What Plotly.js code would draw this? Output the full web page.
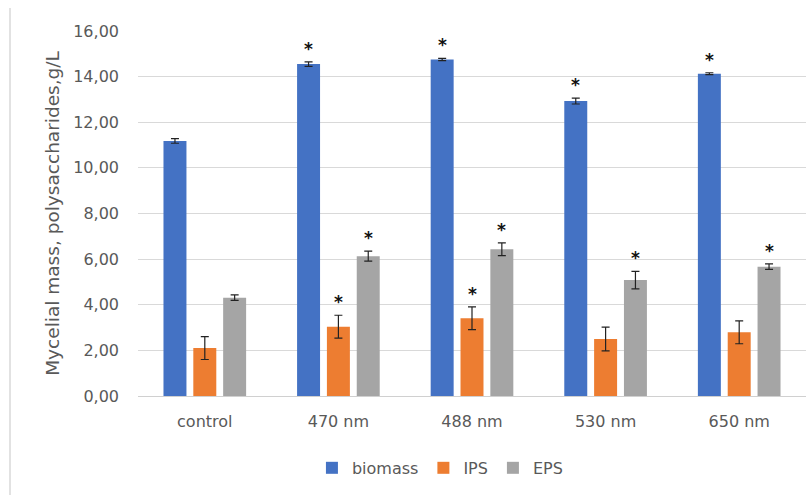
<!DOCTYPE html>
<html>
<head>
<meta charset="utf-8">
<script src="https://cdn.plot.ly/plotly-3.0.1.min.js"></script>
<style>html,body{margin:0;padding:0;background:#fff;}#chart{width:806px;height:495px;}</style>
</head>
<body>
<div id="chart"></div>
<script>
var categories = ["control", "470 nm", "488 nm", "530 nm", "650 nm"];
var biomass    = [11.18, 14.55, 14.75, 12.93, 14.13];
var biomassErr = [0.10, 0.10, 0.05, 0.13, 0.04];
var ips        = [2.10, 3.04, 3.41, 2.50, 2.79];
var ipsErr     = [0.50, 0.50, 0.50, 0.52, 0.50];
var eps        = [4.31, 6.13, 6.43, 5.08, 5.67];
var epsErr     = [0.12, 0.22, 0.28, 0.38, 0.12];
var biomassSig = [false, true, true, true, true];
var ipsSig     = [false, true, true, false, false];
var epsSig     = [false, true, true, true, true];
var yTicks     = [0, 2, 4, 6, 8, 10, 12, 14, 16];

var colors = ["#4472C4", "#ED7D31", "#A5A5A5"];
var names = ["biomass", "IPS", "EPS"];
var vals = [biomass, ips, eps];
var errs = [biomassErr, ipsErr, epsErr];
var sigs = [biomassSig, ipsSig, epsSig];

var font = "DejaVu Sans, sans-serif";
var textColor = "#595959";

var traces = vals.map(function (v, i) {
  return {
    type: "bar", name: names[i], x: categories, y: v,
    marker: {color: colors[i]},
    error_y: {type: "data", array: errs[i], visible: true, color: "#222", thickness: 1.2, width: 4},
    hoverinfo: "x+y"
  };
});

var W = 806, H = 495;
var margin = {l: 138, r: 0, t: 31, b: 99};
var bargap = 0.33;
var plotW = W - margin.l - margin.r;
var slotPx = plotW / categories.length * (1 - bargap) / 3;

var annotations = [];
sigs.forEach(function (s, i) {
  s.forEach(function (flag, j) {
    if (flag) {
      annotations.push({
        x: categories[j], y: vals[i][j] + errs[i][j], xref: "x", yref: "y",
        text: "<b>*</b>", showarrow: false, yanchor: "middle",
        xshift: (i - 1) * slotPx, yshift: 13,
        font: {family: font, size: 17, color: "#111"}
      });
    }
  });
});

var layout = {
  width: W, height: H, margin: margin,
  paper_bgcolor: "#fff", plot_bgcolor: "#fff",
  barmode: "group", bargap: bargap, bargroupgap: 0.23,
  separators: ", ",
  font: {family: font, size: 16, color: textColor},
  xaxis: {
    type: "category", showgrid: false, zeroline: false, showline: false,
    ticks: "", ticklabelstandoff: 14,
    tickfont: {family: font, size: 16, color: textColor}
  },
  yaxis: {
    range: [0, 16], tickvals: yTicks, tickformat: ".2f",
    showgrid: true, gridcolor: "#d9d9d9", gridwidth: 1,
    zeroline: true, zerolinecolor: "#d0d0d0", zerolinewidth: 1,
    showline: false, ticks: "", ticklabelstandoff: 18,
    tickfont: {family: font, size: 16, color: textColor},
    title: {text: "Mycelial mass, polysaccharides,g/L", standoff: 8,
            font: {family: font, size: 18.5, color: textColor}}
  },
  showlegend: true,
  legend: {orientation: "h", x: 0.452, xanchor: "center", y: -0.197, yanchor: "middle",
           font: {family: font, size: 16, color: textColor}, itemwidth: 30, traceorder: "normal"},
  annotations: annotations,
  shapes: [{type: "line", xref: "paper", yref: "paper",
            x0: (10 - margin.l) / plotW, x1: (10 - margin.l) / plotW,
            y0: (H - margin.b - 8) / (H - margin.t - margin.b), y1: -1,
            line: {color: "#d9d9d9", width: 1.5}}]
};

Plotly.newPlot("chart", traces, layout, {displayModeBar: false, staticPlot: true});
</script>
</body>
</html>
